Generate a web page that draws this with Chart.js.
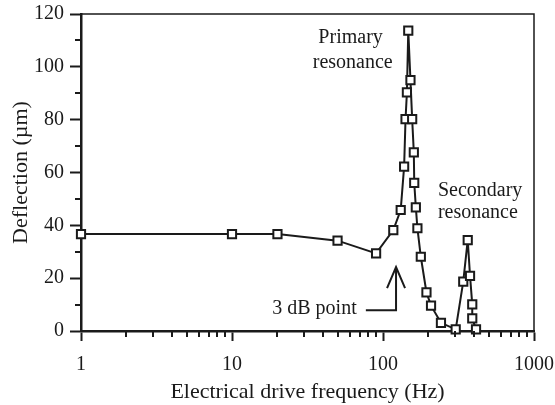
<!DOCTYPE html>
<html>
<head>
<meta charset="utf-8">
<script src="https://cdn.jsdelivr.net/npm/chart.js@4"></script>
<style>
  body { margin: 0; background: #fff; }
  #chart-container { width: 555px; height: 405px; }
</style>
</head>
<body>
<div id="chart-container"><canvas id="cv" width="555" height="405"></canvas></div>
<script>
//-------------------Data-------------------
const freqHz = [1, 10, 20, 50, 90, 117, 131, 138, 141, 144, 147, 152, 156, 160, 161, 165, 169, 178, 194, 208, 242, 303, 340, 364, 377, 390, 390, 413];
const deflectionUm = [36.7, 36.7, 36.7, 34.2, 29.4, 38.2, 45.8, 62.2, 80.2, 90.3, 113.7, 95.0, 80.2, 67.6, 56.1, 46.8, 38.9, 28.1, 14.6, 9.6, 3.1, 0.6, 18.7, 34.4, 20.9, 10.1, 4.8, 0.6];
const xTicks = [1, 2, 3, 4, 5, 6, 7, 8, 9, 10, 20, 30, 40, 50, 60, 70, 80, 90, 100, 200, 300, 400, 500, 600, 700, 800, 900, 1000];
const xLabelTicks = [1, 10, 100, 1000];
const yLabelTicks = [0, 20, 40, 60, 80, 100, 120];

const FONT = 'Liberation Serif';
const INK = '#1a1a1a';

//-------------------Functions-------------------
function isMajorX(v){
  return xLabelTicks.indexOf(v) !== -1;
}

function isMajorY(v){
  return yLabelTicks.indexOf(v) !== -1;
}

//draws frame, minor ticks and the text notes using the chart scales
const extras = {
  id: 'extras',
  afterDraw(chart) {
    const ctx = chart.ctx;
    const a = chart.chartArea;
    const xs = chart.scales.x;
    const ys = chart.scales.y;
    ctx.save();
    ctx.strokeStyle = INK;

    //top and right frame
    ctx.lineWidth = 1.5;
    ctx.beginPath();
    ctx.moveTo(a.left, a.top);
    ctx.lineTo(a.right, a.top);
    ctx.lineTo(a.right, a.bottom);
    ctx.stroke();

    //minor ticks
    ctx.lineWidth = 2;
    ctx.beginPath();
    xTicks.forEach(v => {
      if (isMajorX(v)) return;
      const px = Math.round(xs.getPixelForValue(v));
      ctx.moveTo(px, a.bottom);
      ctx.lineTo(px, a.bottom + 6);
    });
    for (let v = 10; v < 120; v += 20) {
      const py = Math.round(ys.getPixelForValue(v));
      ctx.moveTo(a.left, py);
      ctx.lineTo(a.left - 6, py);
    }
    ctx.stroke();

    //notes
    ctx.fillStyle = INK;
    ctx.font = '20px "' + FONT + '"';
    ctx.textBaseline = 'middle';
    ctx.textAlign = 'center';
    ctx.fillText('Primary', xs.getPixelForValue(61), ys.getPixelForValue(110.9));
    ctx.fillText('resonance', xs.getPixelForValue(63), ys.getPixelForValue(101.4));
    ctx.textAlign = 'left';
    ctx.fillText('Secondary', xs.getPixelForValue(231), ys.getPixelForValue(53));
    ctx.fillText('resonance', xs.getPixelForValue(231), ys.getPixelForValue(44.7));
    ctx.textAlign = 'right';
    ctx.fillText('3 dB point', xs.getPixelForValue(67), ys.getPixelForValue(8.3));

    //arrow for 3 dB point
    const ax = xs.getPixelForValue(122);
    const aTop = ys.getPixelForValue(24.2);
    const aBot = ys.getPixelForValue(7.9);
    ctx.lineWidth = 2;
    ctx.beginPath();
    ctx.moveTo(xs.getPixelForValue(77), aBot);
    ctx.lineTo(ax, aBot);
    ctx.lineTo(ax, aTop);
    ctx.moveTo(ax - 9, aTop + 21);
    ctx.lineTo(ax, aTop);
    ctx.lineTo(ax + 9, aTop + 21);
    ctx.stroke();
    ctx.restore();
  }
};

//-------------------Main Code-------------------
Chart.defaults.font.family = FONT;
Chart.defaults.color = INK;

const chart = new Chart(document.getElementById('cv').getContext('2d'), {
  type: 'line',
  data: {
    datasets: [{
      data: freqHz.map((f, i) => ({ x: f, y: deflectionUm[i] })),
      borderColor: INK,
      borderWidth: 2,
      tension: 0,
      pointStyle: 'rect',
      pointRadius: 5.8,
      pointBorderWidth: 2,
      pointBorderColor: INK,
      pointBackgroundColor: '#fff',
      clip: false
    }]
  },
  options: {
    responsive: false,
    animation: false,
    layout: { padding: { top: 14, right: 21, left: 0, bottom: 0 } },
    plugins: { legend: { display: false }, tooltip: { enabled: false } },
    scales: {
      x: {
        type: 'logarithmic',
        min: 1,
        max: 1000,
        afterBuildTicks: (scale) => { scale.ticks = xTicks.map(v => ({ value: v })); },
        afterFit: (scale) => {
          scale.height = 74;
          scale.paddingLeft = 0;
          scale.paddingRight = 0;
        },
        ticks: {
          autoSkip: false,
          maxRotation: 0,
          padding: 12,
          font: { size: 20 },
          callback: (v) => isMajorX(v) ? String(v) : ''
        },
        grid: {
          drawOnChartArea: false,
          tickLength: 10,
          tickWidth: 2,
          tickColor: (c) => (c.tick && isMajorX(c.tick.value)) ? INK : 'rgba(0,0,0,0)'
        },
        border: { display: true, color: INK, width: 2.5 },
        title: {
          display: true,
          text: 'Electrical drive frequency (Hz)',
          font: { size: 22 },
          padding: { top: 0, bottom: 0 }
        }
      },
      y: {
        min: 0,
        max: 120,
        afterFit: (scale) => {
          scale.width = 81;
          scale.paddingTop = 0;
          scale.paddingBottom = 0;
        },
        ticks: {
          stepSize: 10,
          padding: 6,
          font: { size: 20 },
          callback: (v) => isMajorY(v) ? String(v) : ''
        },
        grid: {
          drawOnChartArea: false,
          tickLength: 11,
          tickWidth: 2,
          tickColor: (c) => (c.tick && isMajorY(c.tick.value)) ? INK : 'rgba(0,0,0,0)'
        },
        border: { display: true, color: INK, width: 2.5 },
        title: {
          display: true,
          text: 'Deflection (µm)',
          font: { size: 22 },
          padding: { top: 8, bottom: 0 }
        }
      }
    }
  },
  plugins: [extras]
});
</script>
</body>
</html>
